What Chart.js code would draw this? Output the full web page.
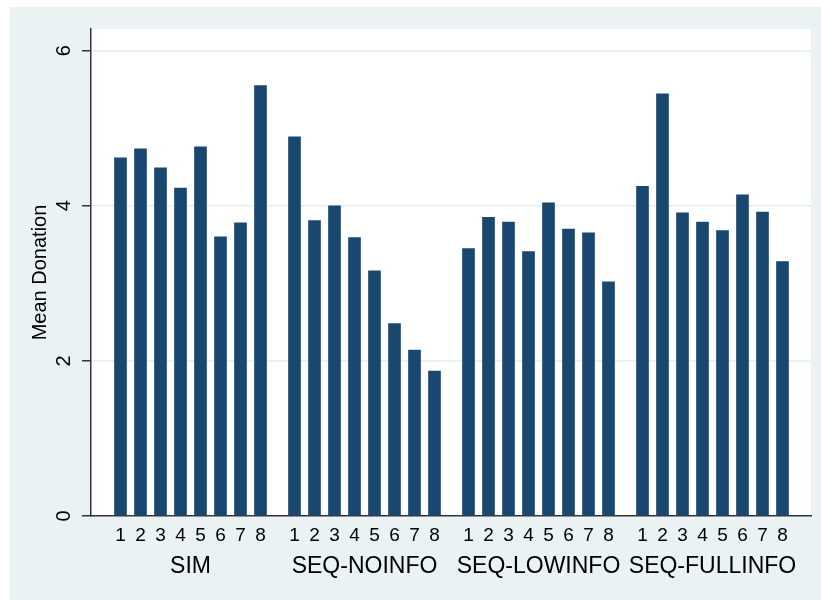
<!DOCTYPE html>
<html>
<head>
<meta charset="utf-8">
<script src="https://cdn.jsdelivr.net/npm/chart.js@4/dist/chart.umd.min.js"></script>
<style>
  html, body { margin: 0; padding: 0; background: #ffffff; }
  #c { display: block; }
</style>
</head>
<body>
<canvas id="c" width="821" height="600"></canvas>
<script>
// ---- data ----
const groups = ["SIM", "SEQ-NOINFO", "SEQ-LOWINFO", "SEQ-FULLINFO"];
const periods = ["1", "2", "3", "4", "5", "6", "7", "8"];
const sim         = [4.62, 4.735, 4.49, 4.23, 4.76, 3.60, 3.78, 5.55];
const seqNoInfo   = [4.89, 3.81, 4.00, 3.59, 3.16, 2.48, 2.14, 1.87];
const seqLowInfo  = [3.45, 3.85, 3.79, 3.41, 4.04, 3.70, 3.65, 3.02];
const seqFullInfo = [4.25, 5.445, 3.91, 3.79, 3.68, 4.14, 3.92, 3.28];
const yTicks = [0, 2, 4, 6];
const yTitle = "Mean Donation";

// ---- build chart structures ----
const series = [sim, seqNoInfo, seqLowInfo, seqFullInfo];
const GROUP_STEP = 8.7;           // slot units between first bars of consecutive groups
const points = [];
const tickPos = [];
const tickLab = {};
series.forEach((vals, g) => {
  vals.forEach((v, i) => {
    const x = g * GROUP_STEP + i;
    points.push({ x: x, y: v });
    tickPos.push(x);
    tickLab[x.toFixed(3)] = periods[i];
  });
});
const groupPos = groups.map((_, g) => g * GROUP_STEP + (periods.length - 1) / 2);
const groupLab = {};
groupPos.forEach((p, g) => { groupLab[p.toFixed(3)] = groups[g]; });

const X_MIN = -1.475;
const X_MAX = (groups.length - 1) * GROUP_STEP + (periods.length - 1) + 1.425;

const NAVY = '#1a476f';
const BG = '#eaf2f3';
const GRID = '#e6eef0';
const AXIS = '#333333';
const FONT = "'Liberation Sans', Arial, Helvetica, sans-serif";

const bgPlugin = {
  id: 'bg',
  beforeDraw(chart) {
    const ctx = chart.ctx;
    const a = chart.chartArea;
    ctx.save();
    ctx.fillStyle = '#ffffff';
    ctx.fillRect(0, 0, chart.width, chart.height);
    ctx.fillStyle = BG;
    ctx.fillRect(10, 7, chart.width - 10, chart.height - 7);
    ctx.fillStyle = '#ffffff';
    ctx.fillRect(a.left, a.top, a.right - a.left, a.bottom - a.top);
    ctx.restore();
  }
};

new Chart(document.getElementById('c'), {
  type: 'bar',
  data: {
    datasets: [{
      data: points,
      backgroundColor: NAVY,
      borderWidth: 0,
      barThickness: 12
    }]
  },
  options: {
    responsive: false,
    animation: false,
    devicePixelRatio: 1,
    layout: { padding: { top: 29, right: 10, left: 0, bottom: 0 } },
    plugins: { legend: { display: false }, tooltip: { enabled: false } },
    scales: {
      x: {
        type: 'linear',
        position: 'bottom',
        offset: false,
        weight: 0,
        min: X_MIN,
        max: X_MAX,
        afterBuildTicks(scale) { scale.ticks = tickPos.map(v => ({ value: v })); },
        afterFit(scale) { scale.height = 30; },
        grid: { display: true, offset: false, color: 'rgba(0,0,0,0)', drawTicks: false },
        border: { display: true, color: AXIS, width: 1.5 },
        ticks: {
          autoSkip: false,
          maxRotation: 0, minRotation: 0,
          padding: 8,
          color: '#000',
          font: { family: FONT, size: 19 },
          callback(v) { return tickLab[Number(v).toFixed(3)] || ''; }
        }
      },
      x2: {
        type: 'linear',
        position: 'bottom',
        offset: false,
        weight: 1,
        min: X_MIN,
        max: X_MAX,
        afterBuildTicks(scale) { scale.ticks = groupPos.map(v => ({ value: v })); },
        afterFit(scale) { scale.height = 54; },
        grid: { display: false, offset: false, drawTicks: false },
        border: { display: false },
        ticks: {
          autoSkip: false,
          maxRotation: 0, minRotation: 0,
          padding: 7,
          color: '#000',
          font: { family: FONT, size: 23 },
          callback(v) { return groupLab[Number(v).toFixed(3)] || ''; }
        }
      },
      y: {
        type: 'linear',
        position: 'left',
        min: 0,
        max: 6.28,
        afterBuildTicks(scale) { scale.ticks = yTicks.map(v => ({ value: v })); },
        afterFit(scale) { scale.width = 91; },
        grid: {
          color(ctx) { return ctx.tick && ctx.tick.value === 0 ? 'rgba(0,0,0,0)' : GRID; },
          lineWidth: 1.5,
          tickLength: 9,
          tickColor: AXIS,
          tickWidth: 1.5
        },
        border: { display: true, color: AXIS, width: 1.5 },
        ticks: {
          minRotation: 90, maxRotation: 90,
          crossAlign: 'center',
          padding: 12,
          color: '#000',
          font: { family: FONT, size: 20 },
          callback(v) { return String(v); }
        },
        title: {
          display: true,
          text: yTitle,
          color: '#000',
          font: { family: FONT, size: 20 },
          padding: { top: 28, bottom: 0 }
        }
      }
    }
  },
  plugins: [bgPlugin]
});
</script>
</body>
</html>
